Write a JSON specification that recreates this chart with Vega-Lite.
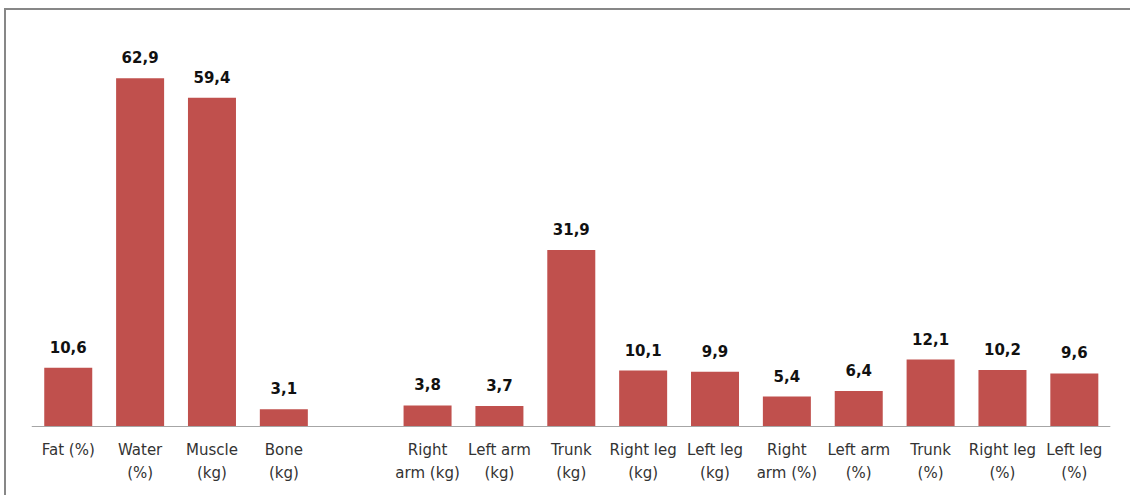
{
  "$schema": "https://vega.github.io/schema/vega-lite/v6.json",
  "width": 1135,
  "height": 496,
  "autosize": "none",
  "padding": {"left": 5, "top": 9, "right": -10, "bottom": -10},
  "background": "white",
  "config": {
    "view": {"stroke": "#878787", "strokeWidth": 2},
    "locale": {
      "number": {"decimal": ",", "thousands": ".", "grouping": [3], "currency": ["", " €"]}
    }
  },
  "data": {
    "values": [
      {"measure": "Fat (%)", "value": 10.6},
      {"measure": "Water|(%)", "value": 62.9},
      {"measure": "Muscle|(kg)", "value": 59.4},
      {"measure": "Bone|(kg)", "value": 3.1},
      {"measure": "Right|arm (kg)", "value": 3.8},
      {"measure": "Left arm|(kg)", "value": 3.7},
      {"measure": "Trunk|(kg)", "value": 31.9},
      {"measure": "Right leg|(kg)", "value": 10.1},
      {"measure": "Left leg|(kg)", "value": 9.9},
      {"measure": "Right|arm (%)", "value": 5.4},
      {"measure": "Left arm|(%)", "value": 6.4},
      {"measure": "Trunk|(%)", "value": 12.1},
      {"measure": "Right leg|(%)", "value": 10.2},
      {"measure": "Left leg|(%)", "value": 9.6}
    ]
  },
  "encoding": {
    "x": {
      "field": "measure",
      "type": "nominal",
      "sort": null,
      "scale": {
        "domain": ["Fat (%)", "Water|(%)", "Muscle|(kg)", "Bone|(kg)", "", "Right|arm (kg)", "Left arm|(kg)", "Trunk|(kg)", "Right leg|(kg)", "Left leg|(kg)", "Right|arm (%)", "Left arm|(%)", "Trunk|(%)", "Right leg|(%)", "Left leg|(%)"],
        "paddingInner": 0.332,
        "paddingOuter": 0.563,
        "align": 0.485
      },
      "axis": {
        "title": null,
        "domain": false,
        "ticks": false,
        "grid": false,
        "labelAngle": 0,
        "labelFont": "DejaVu Sans",
        "labelFontSize": 15,
        "labelColor": "#333333",
        "labelPadding": 16,
        "labelLineHeight": 23,
        "labelLimit": 0,
        "labelOverlap": false,
        "labelExpr": "split(datum.label, '|')",
        "offset": -78.5
      }
    }
  },
  "layer": [
    {
      "mark": {"type": "bar", "color": "#C0504D"},
      "encoding": {
        "y": {"field": "value", "type": "quantitative", "scale": {"domain": [-14.18, 75.43], "nice": false, "zero": false}, "axis": null},
        "y2": {"datum": 0}
      }
    },
    {
      "mark": {"type": "text", "dy": -15, "baseline": "alphabetic", "font": "DejaVu Sans", "fontWeight": "bold", "fontSize": 15, "color": "#111111"},
      "encoding": {
        "y": {"field": "value", "type": "quantitative"},
        "text": {"field": "value", "type": "quantitative", "format": ".1f"}
      }
    },
    {
      "data": {"values": [{}]},
      "mark": {"type": "rule", "color": "#a6a6a6", "strokeWidth": 1.2},
      "encoding": {
        "x": {"datum": "Fat (%)", "type": "nominal", "bandPosition": -0.26},
        "x2": {"datum": "Left leg|(%)", "bandPosition": 1.25},
        "y": {"datum": 0, "type": "quantitative"}
      }
    }
  ]
}
